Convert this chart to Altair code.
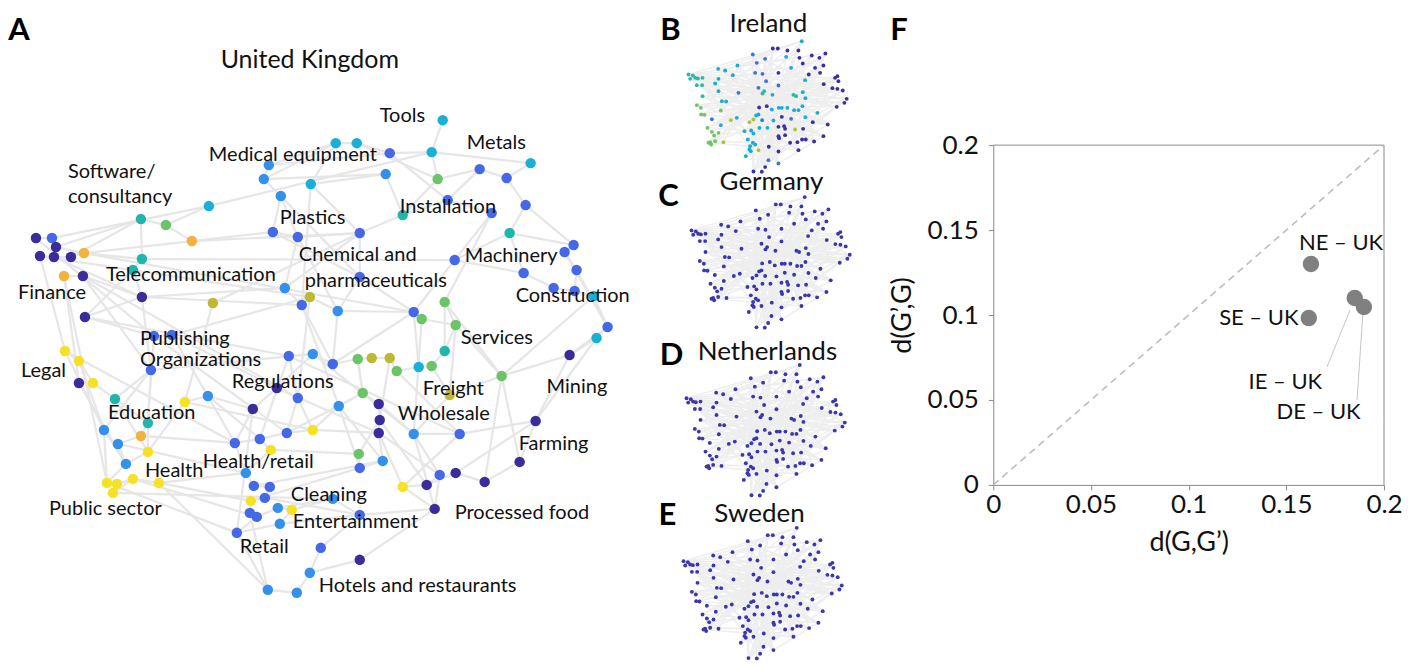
import altair as alt
import pandas as pd

FONT = "Lato"
TXT = "#111111"

# ---------------- Panel A: United Kingdom network (layout units) ----------------
PALETTE = {"p": "#3b2c9c", "b": "#4468e6", "l": "#3490ea", "c": "#1ab0d6", "t": "#21b6ad",
           "g": "#6cc46a", "o": "#bdb932", "y": "#f6e224", "r": "#f3b23f"}

uk_nodes = [
    (267,165,"l"),(262,179,"l"),(279,196,"l"),(207,206,"c"),(139,219,"t"),(164,225,"g"),(190,241,"r"),(271,232,"b"),(296,237,"b"),(34,238,"p"),
    (50,238,"b"),(54,247,"p"),(38,256,"p"),(52,257,"p"),(69,257,"p"),(82,253,"r"),(140,259,"t"),(131,270,"t"),(62,276,"r"),(81,276,"p"),
    (140,297,"p"),(211,303,"o"),(283,288,"l"),(300,305,"b"),(83,317,"p"),(152,336,"b"),(170,335,"b"),(441,120,"c"),(334,143,"c"),(355,143,"c"),
    (388,153,"b"),(430,152,"c"),(529,163,"c"),(384,174,"l"),(436,179,"g"),(478,169,"b"),(505,178,"b"),(309,184,"c"),(446,200,"b"),(401,215,"t"),
    (490,213,"b"),(524,205,"b"),(358,233,"b"),(508,233,"t"),(563,252,"b"),(572,245,"b"),(453,260,"b"),(575,270,"b"),(522,273,"b"),(358,277,"b"),
    (552,288,"b"),(573,291,"b"),(592,296,"c"),(308,297,"o"),(336,311,"l"),(412,312,"b"),(443,302,"g"),(420,319,"g"),(454,325,"g"),(606,327,"b"),
    (595,338,"c"),(63,351,"y"),(77,361,"y"),(77,383,"p"),(91,383,"y"),(149,370,"b"),(287,356,"b"),(113,399,"t"),(183,402,"y"),(206,396,"l"),
    (275,388,"p"),(296,398,"b"),(251,409,"p"),(146,423,"t"),(102,430,"l"),(139,436,"r"),(116,444,"l"),(146,452,"y"),(233,443,"b"),(258,439,"b"),
    (285,433,"b"),(269,450,"y"),(124,464,"l"),(131,479,"y"),(157,483,"y"),(105,483,"y"),(115,484,"y"),(111,493,"y"),(244,473,"l"),(252,486,"b"),
    (268,487,"b"),(263,498,"b"),(249,501,"y"),(276,508,"l"),(290,510,"y"),(248,513,"b"),(255,517,"b"),(278,524,"l"),(235,533,"b"),(266,590,"l"),
    (295,593,"l"),(311,354,"l"),(331,364,"b"),(356,359,"g"),(370,358,"o"),(388,358,"o"),(395,371,"g"),(417,367,"c"),(430,366,"g"),(443,351,"t"),
    (500,376,"g"),(568,355,"p"),(337,406,"l"),(361,393,"g"),(377,404,"p"),(378,420,"p"),(377,433,"p"),(311,430,"y"),(412,434,"l"),(448,395,"o"),
    (458,434,"b"),(534,421,"p"),(518,462,"p"),(357,454,"g"),(358,468,"b"),(381,461,"l"),(401,487,"y"),(425,485,"p"),(438,475,"b"),(454,473,"p"),
    (483,482,"p"),(433,509,"p"),(331,499,"l"),(358,515,"b"),(319,548,"b"),(358,560,"p"),(308,573,"l"),
]

uk_edges = [
    (28,32),(32,33),(32,35),(29,30),(30,31),(31,32),(29,38),(38,34),(34,2),(1,2),(2,3),(3,8),(4,6),(5,6),(6,7),(5,17),(17,18),(7,8),(4,32),
    (10,11),(11,12),(12,16),(13,14),(14,15),(15,16),(16,17),(16,7),(19,20),(20,21),(21,25),(25,26),(18,21),(21,66),(26,27),(27,70),(66,68),
    (62,63),(63,65),(64,65),(65,68),(62,75),(75,86),(86,87),(87,88),(88,84),(84,85),(85,89),(83,77),(77,76),(76,74),(74,78),(78,69),(69,70),
    (70,79),(79,80),(80,81),(81,72),(72,71),(71,73),(73,79),(72,67),(67,102),(102,103),(103,104),(104,105),(105,106),(106,107),(107,108),
    (108,109),(109,110),(110,57),(57,59),(59,58),(58,56),(56,47),(47,41),(41,39),(39,36),(36,37),(37,42),(42,44),(44,46),(46,45),(45,48),
    (48,52),(52,53),(53,60),(60,61),(61,112),(112,122),(122,123),(123,131),(131,130),(130,128),(128,129),(129,132),(132,127),(127,121),
    (121,119),(119,115),(115,116),(116,117),(117,118),(118,113),(113,114),(114,104),(111,120),(120,119),(111,112),(89,90),(90,91),(91,92),
    (92,93),(93,96),(96,97),(97,94),(94,95),(95,98),(98,99),(99,100),(100,101),(101,137),(137,135),(135,134),(134,133),(133,95),(136,137),
    (136,132),(124,125),(125,126),(126,117),(82,80),(82,89),(23,24),(24,54),(54,55),(55,50),(50,43),(43,9),(9,8),(23,9),(47,49),(49,51),
    (51,52),(40,39),(40,35),(43,40),(13,54),(16,56),(20,72),(25,67),(62,79),(86,99),(85,100),(88,133),(26,81),(21,24),(7,43),(17,47),(75,83),
    (66,102),(69,118),(84,97),(3,50),(1,29),(38,43),(31,39),(34,40),(45,60),(53,111),(57,111),(61,122),(67,121),(102,119),(103,56),(71,117),
    (73,99),(81,114),(90,126),(92,134),(96,100),(76,79),(77,89),(63,75),(64,83),(68,78),(55,56),(24,103),(9,55),(8,50),(27,54),(19,64),
    (12,5),(11,4),(21,23),(58,119),(59,111),(109,120),(106,116),(107,121),(44,49),(48,60),(41,57),(131,111),(123,111),(130,122),(129,119),
    (132,134),(128,116),(127,117),(124,82),(125,93),(126,113),(80,70),
    (10,26),(13,62),(14,21),(15,5),(19,86),(20,66),(22,43),(22,69),(23,43),(24,113),(26,74),(27,71),(29,2),(30,35),(33,37),(36,35),
    (42,46),(44,47),(50,56),(54,72),(55,103),(56,108),(59,120),(60,112),(66,74),(67,80),(70,73),(71,102),(72,118),(78,83),(79,89),
    (81,118),(83,86),(85,93),(87,84),(94,133),(97,99),(98,134),(104,114),(110,59),(113,125),(114,115),(116,124),(117,129),(119,132),
    (121,122),(128,127),(3,9),(1,31),(38,24),(18,25),(66,75),(68,74),
]

uk_labels_left = [
    ("Tools", 378, 116), ("Metals", 465, 143), ("Medical equipment", 207, 155), ("Software/", 66, 172),
    ("consultancy", 66, 197), ("Installation", 398, 207), ("Plastics", 278, 218), ("Chemical and", 297, 255),
    ("pharmaceuticals", 303, 281), ("Machinery", 463, 256), ("Telecommunication", 104, 275), ("Finance", 16, 293),
    ("Construction", 514, 296), ("Publishing", 138, 339), ("Organizations", 138, 360), ("Services", 459, 338),
    ("Legal", 19, 371), ("Regulations", 230, 382), ("Freight", 421, 389), ("Mining", 545, 387),
    ("Wholesale", 396, 414), ("Education", 106, 413), ("Farming", 517, 444), ("Health", 143, 471),
    ("Health/retail", 201, 462), ("Public sector", 47, 509), ("Cleaning", 289, 495), ("Entertainment", 291, 522),
    ("Processed food", 453, 513), ("Retail", 238, 547), ("Hotels and restaurants", 317, 586),
]

uk_title = [("United Kingdom", 308, 60)]

# ---------------- Panels B-E: small networks (shared layout units) ----------------
SMALL_COL = {"p": "#3d2f9e", "b": "#3f72e0", "l": "#2f9ae0", "c": "#1bacd2", "t": "#2cb8a6",
             "g": "#72c466", "o": "#b5c03c"}
OTHER_NODE = "#3a37aa"

small_nodes = [
    (475,105,"c"),(388,127,"p"),(403,127,"p"),(432,133,"p"),(465,133,"p"),(328,145,"b"),(365,158,"b"),(428,152,"c"),(468,155,"p"),(505,148,"p"),
    (528,155,"p"),(546,142,"p"),(340,170,"b"),(443,185,"c"),(478,172,"p"),(515,185,"p"),(540,178,"p"),(224,188,"c"),(245,193,"c"),(282,178,"c"),
    (268,207,"l"),(335,200,"b"),(357,203,"b"),(405,200,"p"),(496,205,"p"),(530,200,"p"),(135,205,"t"),(148,208,"t"),(140,218,"t"),(155,215,"t"),
    (163,217,"t"),(177,215,"t"),(225,218,"c"),(215,232,"c"),(160,237,"t"),(176,237,"t"),(225,255,"c"),(177,270,"t"),(368,225,"b"),(405,238,"b"),
    (485,222,"c"),(575,215,"p"),(582,210,"p"),(585,225,"p"),(541,234,"p"),(567,246,"p"),(582,248,"p"),(598,253,"p"),(285,260,"b"),(345,245,"b"),
    (362,255,"t"),(357,262,"t"),(387,266,"c"),(450,266,"t"),(458,270,"t"),(478,258,"c"),(486,276,"c"),(610,278,"p"),(603,290,"p"),(580,302,"p"),
    (235,285,"c"),(248,286,"c"),(160,297,"g"),(172,305,"g"),(232,313,"g"),(347,304,"p"),(370,300,"p"),(385,310,"c"),(406,305,"c"),(415,305,"c"),
    (432,305,"c"),(452,312,"c"),(465,312,"c"),(477,300,"c"),(522,320,"c"),(173,325,"g"),(183,326,"g"),(280,335,"c"),(262,342,"o"),(205,339,"b"),
    (338,328,"c"),(345,325,"c"),(330,340,"o"),(356,342,"b"),(390,343,"c"),(415,332,"p"),(443,338,"b"),(486,333,"c"),(553,355,"p"),(192,365,"g"),
    (232,357,"c"),(205,377,"g"),(225,380,"g"),(212,388,"g"),(318,348,"o"),(303,375,"c"),(323,373,"c"),(330,382,"c"),(348,365,"c"),(372,365,"c"),
    (405,362,"p"),(422,360,"p"),(425,368,"p"),(455,370,"o"),(479,368,"p"),(508,348,"p"),(540,390,"p"),(200,408,"g"),(195,410,"g"),(203,415,"g"),
    (215,405,"g"),(240,408,"o"),(313,400,"c"),(328,410,"c"),(320,420,"c"),(335,415,"c"),(318,430,"c"),(322,435,"c"),(345,432,"o"),(307,450,"c"),
    (376,422,"p"),(405,390,"p"),(407,396,"p"),(425,387,"p"),(440,410,"p"),(462,408,"p"),(476,400,"p"),(487,400,"p"),(512,406,"p"),(465,432,"p"),
    (405,436,"p"),(375,462,"b"),(405,472,"b"),(330,496,"p"),(355,497,"p"),(365,483,"p"),
]

small_edges = [
    (26,0),(26,11),(26,47),(26,57),(26,88),(26,59),(26,13),(26,52),(17,0),(17,47),(17,88),(17,106),(5,57),(5,129),(5,133),(1,135),
    (1,119),(0,119),(0,133),(0,107),(11,107),(11,135),(11,89),(47,62),(47,75),(47,119),(57,107),(57,133),(57,34),(41,37),(41,89),
    (41,133),(88,62),(106,34),(106,37),(128,17),(128,62),(128,26),(129,26),(129,37),(132,17),(132,5),(132,26),(135,12),(135,21),
    (133,21),(133,9),(119,9),(119,4),(107,24),(107,15),(89,16),(89,25),(75,10),(75,45),(62,46),(37,58),(34,59),(62,59),(48,105),
    (50,104),(38,86),(21,122),(6,120),(19,125),(13,131),(40,112),(44,114),(52,95),(56,91),(20,74),(23,77),(68,90),(70,60),(66,64),
    (85,79),(101,93),(124,110),(30,67),(28,73),(31,55),
    (26,41),(34,47),(37,57),(75,88),(89,106),(107,128),(108,129),(119,125),(133,122),(135,104),(131,88),(132,106),(130,59),(116,57),
    (112,47),(95,41),(90,16),(78,11),(77,9),(64,4),(60,3),(36,2),(33,1),(18,0),(19,9),(20,25),(48,44),(49,43),(51,58),(52,74),
    (53,88),(54,105),(55,47),(56,59),(65,128),(66,126),(67,106),(68,125),(69,124),(70,123),(71,122),(72,121),(73,120),(80,135),
    (81,134),(82,133),(83,132),(84,131),(85,130),(86,129),(87,128),(94,133),(96,135),(97,131),(98,130),(99,132),(100,16),(101,15),
    (102,10),(103,11),(104,57),(105,41),(109,24),(110,23),(111,22),(113,21),(114,12),(115,6),(117,5),(118,1),(120,3),(121,8),
    (17,59),(29,88),(31,106),(35,128),(28,129),(27,132),(30,135),
]

# panel title, layout origin (x, y), coloured?
small_panels = [("Ireland", 642, 6, True), ("Germany", 645, 162, False),
                ("Netherlands", 640, 330, False), ("Sweden", 637, 493, False)]
small_titles = [("Ireland", 767, 24), ("Germany", 770, 182), ("Netherlands", 766, 352), ("Sweden", 758, 514)]
panel_letters_mid = [("B", 669, 31), ("C", 667, 197), ("D", 670, 356), ("E", 666, 516)]
panel_letters_left = [("A", 17, 31)]

# ---------------- Panel F: scatter ----------------
pair_names = ["NE \u2013 UK", "SE \u2013 UK", "IE \u2013 UK", "DE \u2013 UK"]
d_G_Gp = [0.1626, 0.1615, 0.185, 0.1897]
d_Gp_G = [0.130, 0.0982, 0.110, 0.1047]
label_center = [("NE \u2013 UK", 0.178, 0.1424), ("IE \u2013 UK", 0.1495, 0.0605), ("DE \u2013 UK", 0.1665, 0.0429)]
label_right = [("SE \u2013 UK", 0.1562, 0.0982)]
leader_lines = [(0.1708, 0.0694, 0.1826, 0.1029), (0.1862, 0.050, 0.1892, 0.1012)]
diag = [0.0, 0.2]
ticks = [0, 0.05, 0.1, 0.15, 0.2]
letter_F = [("F", -0.0482, 0.267)]

# ================= build charts =================
def sc(dom):
    return alt.Scale(domain=dom, nice=False, zero=False)

# ---- Panel A
A_W, A_H = 620, 650
axd, ayd = [8, 8 + A_W], [8 + A_H, 8]
uk_df = pd.DataFrame(uk_nodes, columns=["x", "y", "c"])
uk_df["color"] = uk_df["c"].map(PALETTE)
n = len(uk_df)
e_rows = []
for a, b in uk_edges:
    if 1 <= a <= n and 1 <= b <= n:
        e_rows.append({"x": uk_df.x[a - 1], "y": uk_df.y[a - 1], "x2": uk_df.x[b - 1], "y2": uk_df.y[b - 1]})
uk_e = pd.DataFrame(e_rows)

XA = lambda f="x": alt.X(f"{f}:Q", scale=sc(axd), axis=None)
YA = lambda f="y": alt.Y(f"{f}:Q", scale=sc(ayd), axis=None)

a_edges = alt.Chart(uk_e).mark_rule(color="#e6e6e6", strokeWidth=2.2).encode(x=XA(), y=YA(), x2="x2:Q", y2="y2:Q")
a_nodes = alt.Chart(uk_df).mark_circle(size=110, opacity=1).encode(x=XA(), y=YA(), color=alt.Color("color:N", scale=None))
a_labels = alt.Chart(pd.DataFrame(uk_labels_left, columns=["t", "x", "y"])).mark_text(
    align="left", baseline="middle", font=FONT, fontSize=20, color=TXT).encode(x=XA(), y=YA(), text="t:N")
a_title = alt.Chart(pd.DataFrame(uk_title, columns=["t", "x", "y"])).mark_text(
    align="center", baseline="middle", font=FONT, fontSize=25, color=TXT).encode(x=XA(), y=YA(), text="t:N")
a_letter = alt.Chart(pd.DataFrame(panel_letters_left, columns=["t", "x", "y"])).mark_text(
    align="center", baseline="middle", font=FONT, fontSize=31, fontWeight="bold", color="#000").encode(x=XA(), y=YA(), text="t:N")
panelA = alt.layer(a_edges, a_nodes, a_labels, a_title, a_letter).properties(width=A_W, height=A_H)

# ---- Panels B-E
M_W, M_H = 240, 650
mxd, myd = [640, 640 + M_W], [8 + M_H, 8]
node_rows, edge_rows = [], []
for name, ox, oy, coloured in small_panels:
    for (u, v, c) in small_nodes:
        node_rows.append({"x": ox + u / 3, "y": oy + v / 3,
                          "color": SMALL_COL[c] if coloured else OTHER_NODE, "panel": name})
    for a, b in small_edges:
        if a < len(small_nodes) and b < len(small_nodes):
            ua, va, _ = small_nodes[a]
            ub, vb, _ = small_nodes[b]
            edge_rows.append({"x": ox + ua / 3, "y": oy + va / 3, "x2": ox + ub / 3, "y2": oy + vb / 3})
m_nodes_df = pd.DataFrame(node_rows)
m_edges_df = pd.DataFrame(edge_rows)

XM = lambda f="x": alt.X(f"{f}:Q", scale=sc(mxd), axis=None)
YM = lambda f="y": alt.Y(f"{f}:Q", scale=sc(myd), axis=None)

m_edges = alt.Chart(m_edges_df).mark_rule(color="#eeeeee", strokeWidth=1.4, opacity=1).encode(x=XM(), y=YM(), x2="x2:Q", y2="y2:Q")
m_nodes = alt.Chart(m_nodes_df).mark_circle(size=15, opacity=1).encode(x=XM(), y=YM(), color=alt.Color("color:N", scale=None))
m_titles = alt.Chart(pd.DataFrame(small_titles, columns=["t", "x", "y"])).mark_text(
    align="center", baseline="middle", font=FONT, fontSize=26, color=TXT).encode(x=XM(), y=YM(), text="t:N")
m_letters = alt.Chart(pd.DataFrame(panel_letters_mid, columns=["t", "x", "y"])).mark_text(
    align="center", baseline="middle", font=FONT, fontSize=31, fontWeight="bold", color="#000").encode(x=XM(), y=YM(), text="t:N")
panelM = alt.layer(m_edges, m_nodes, m_titles, m_letters).properties(width=M_W, height=M_H)

# ---- Panel F
F_W, F_H = 491, 477
fx_scale = alt.Scale(domain=[0, 0.2], range=[100, F_W], nice=False, zero=False)
fy_scale = alt.Scale(domain=[0, 0.2], range=[F_H, 137], nice=False, zero=False)
common_axis = dict(values=ticks, format="~g", grid=False, labelFont=FONT, labelFontSize=26, labelColor=TXT,
                   titleFont=FONT, titleFontSize=27, titleFontWeight="normal", titleColor=TXT,
                   domainColor="#8a8a8a", tickColor="#8a8a8a", tickSize=5, labelFlush=False)
axX = alt.Axis(title="d(G,G\u2019)", titlePadding=12, labelPadding=2, **common_axis)
axY = alt.Axis(title="d(G\u2019,G)", titlePadding=10, labelPadding=10, offset=-100, **common_axis)

XF = lambda f="x": alt.X(f"{f}:Q", scale=fx_scale, axis=axX)
YF = lambda f="y": alt.Y(f"{f}:Q", scale=fy_scale, axis=axY)

pts_df = pd.DataFrame({"x": d_G_Gp, "y": d_Gp_G, "pair": pair_names})
frame_top = alt.Chart(pd.DataFrame({"x": [0.0], "x2": [0.2], "y": [0.2]})).mark_rule(
    color="#8a8a8a", strokeWidth=1).encode(x=XF(), x2="x2:Q", y=YF())
frame_right = alt.Chart(pd.DataFrame({"x": [0.2], "y": [0.0], "y2": [0.2]})).mark_rule(
    color="#8a8a8a", strokeWidth=1).encode(x=XF(), y=YF(), y2="y2:Q")
diag_line = alt.Chart(pd.DataFrame({"x": diag, "y": diag})).mark_line(
    color="#bdbdbd", strokeWidth=1.6, strokeDash=[7, 5]).encode(x=XF(), y=YF())
leaders = alt.Chart(pd.DataFrame(leader_lines, columns=["x", "y", "x2", "y2"])).mark_rule(
    color="#c4c4c4", strokeWidth=1).encode(x=XF(), y=YF(), x2="x2:Q", y2="y2:Q")
points = alt.Chart(pts_df).mark_circle(size=270, opacity=1, color="#808080").encode(x=XF(), y=YF())
lab_c = alt.Chart(pd.DataFrame(label_center, columns=["t", "x", "y"])).mark_text(
    align="center", baseline="middle", font=FONT, fontSize=22, color=TXT).encode(x=XF(), y=YF(), text="t:N")
lab_r = alt.Chart(pd.DataFrame(label_right, columns=["t", "x", "y"])).mark_text(
    align="right", baseline="middle", font=FONT, fontSize=22, color=TXT).encode(x=XF(), y=YF(), text="t:N")
lab_F = alt.Chart(pd.DataFrame(letter_F, columns=["t", "x", "y"])).mark_text(
    align="center", baseline="middle", font=FONT, fontSize=31, fontWeight="bold", color="#000").encode(x=XF(), y=YF(), text="t:N")
panelF = alt.layer(frame_top, frame_right, diag_line, leaders, points, lab_c, lab_r, lab_F).properties(width=F_W, height=F_H)

chart = alt.hconcat(panelA, panelM, panelF, spacing=12, bounds="flush").resolve_scale(
    x="independent", y="independent").properties(padding=0).configure_view(stroke=None)

chart.save("out.html", embed_options={"renderer": "svg", "actions": False})
